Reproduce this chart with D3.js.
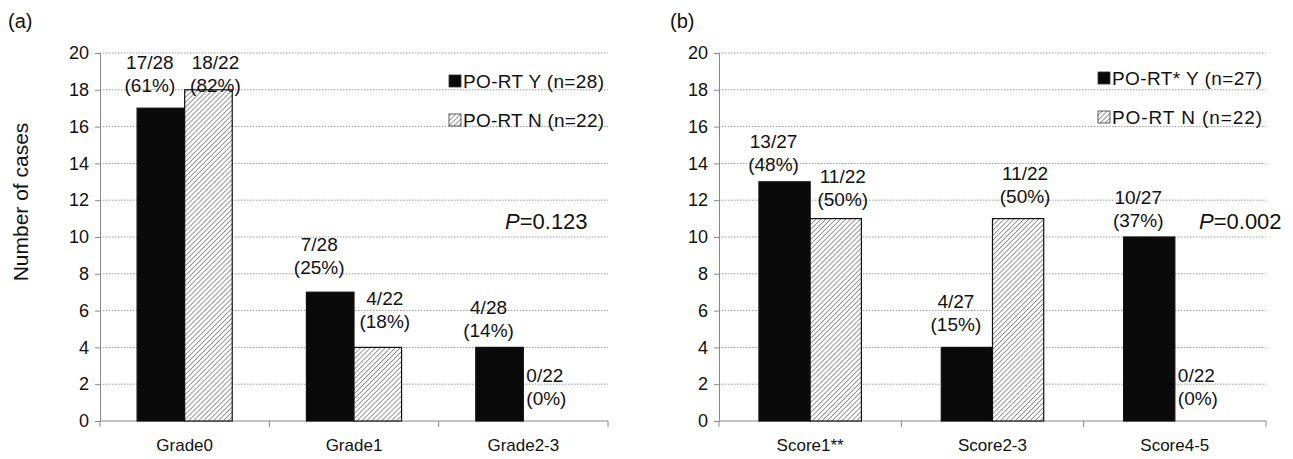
<!DOCTYPE html>
<html>
<head>
<meta charset="utf-8">
<script src="https://cdn.jsdelivr.net/npm/d3@7"></script>
<style>
  body { margin: 0; background: #fff; }
  text { font-family: "Liberation Sans", Arial, sans-serif; fill: #111; }
</style>
</head>
<body>
<div id="chart"></div>
<script>
// panel (a)
let gradeCats = ["Grade0", "Grade1", "Grade2-3"];
let gradeY = [17, 7, 4];
let gradeN = [18, 4, 0];
let gradeYLabels = ["17/28|(61%)", "7/28|(25%)", "4/28|(14%)"];
let gradeNLabels = ["18/22|(82%)", "4/22|(18%)", "0/22|(0%)"];
// line-1 anchor of each annotation, in axis units
let gradeYLabelAt = [19.5, 9.6, 6.2];
let gradeNLabelAt = [19.5, 6.7, 2.5];

// panel (b)
let scoreCats = ["Score1**", "Score2-3", "Score4-5"];
let scoreY = [13, 4, 10];
let scoreN = [11, 11, 0];
let scoreYLabels = ["13/27|(48%)", "4/27|(15%)", "10/27|(37%)"];
let scoreNLabels = ["11/22|(50%)", "11/22|(50%)", "0/22|(0%)"];
let scoreYLabelAt = [15.2, 6.5, 12.2];
let scoreNLabelAt = [13.3, 13.5, 2.5];

let yTicks = [0, 2, 4, 6, 8, 10, 12, 14, 16, 18, 20];

let svgWidth = 1293, svgHeight = 459;
let svg = d3.select("#chart").append("svg")
  .attr("width", svgWidth).attr("height", svgHeight);

let defs = svg.append("defs");
let pat = defs.append("pattern")
  .attr("id", "hatch").attr("patternUnits", "userSpaceOnUse")
  .attr("width", 3.5).attr("height", 3.5)
  .attr("patternTransform", "rotate(45)");
pat.append("rect").attr("width", 3.5).attr("height", 3.5).attr("fill", "#fff");
pat.append("line").attr("x1", 0).attr("y1", 0).attr("x2", 0).attr("y2", 3.5)
  .attr("stroke", "#555").attr("stroke-width", 1.2);

let yScale = d3.scaleLinear().domain([0, 20]).range([421, 53]);

let drawPanel = (opt) => {
  let g = svg.append("g");
  let x = d3.scaleBand().domain(opt.cats).range([opt.x0, opt.x1]);
  let inner = d3.scaleBand().domain(["Y", "N"]).range([0, x.bandwidth()]).paddingOuter(0.78).paddingInner(0);

  // gridlines
  g.selectAll("line.grid").data(yTicks.slice(1)).enter().append("line")
    .attr("x1", opt.x0).attr("x2", opt.x1)
    .attr("y1", (d) => yScale(d)).attr("y2", (d) => yScale(d))
    .attr("stroke", "#999").attr("stroke-dasharray", "1.5,1.5");

  // y axis
  let yAxis = d3.axisLeft(yScale).tickValues(yTicks).tickSize(5).tickPadding(6);
  let ya = g.append("g").attr("transform", "translate(" + opt.x0 + ",0)").call(yAxis);
  ya.selectAll("path, line").attr("stroke", "#888");
  ya.selectAll("text").style("font-size", "18px").attr("fill", "#111");

  // x axis with ticks at band edges
  let xa = g.append("g").attr("transform", "translate(0," + yScale(0) + ")");
  xa.append("line").attr("x1", opt.x0).attr("x2", opt.x1).attr("stroke", "#888");
  let edges = opt.cats.map((c) => x(c)).concat([opt.x1]);
  xa.selectAll("line.tk").data(edges).enter().append("line")
    .attr("x1", (d) => d).attr("x2", (d) => d).attr("y1", 0).attr("y2", 6).attr("stroke", "#888");
  xa.selectAll("text").data(opt.cats).enter().append("text")
    .attr("x", (d) => x(d) + x.bandwidth() / 2).attr("y", 30)
    .attr("text-anchor", "middle").style("font-size", "17px").text((d) => d);

  let series = [
    { key: "Y", vals: opt.y, labels: opt.yLabels, at: opt.yAt, fill: "#0a0a0a", dx: -11 },
    { key: "N", vals: opt.n, labels: opt.nLabels, at: opt.nAt, fill: "url(#hatch)", dx: 7 },
  ];
  series.forEach((s) => {
    g.selectAll(null).data(opt.cats).enter().append("rect")
      .attr("x", (d) => x(d) + inner(s.key))
      .attr("width", inner.bandwidth())
      .attr("y", (d, i) => yScale(s.vals[i]))
      .attr("height", (d, i) => yScale(0) - yScale(s.vals[i]))
      .attr("fill", s.fill)
      .attr("stroke", (d, i) => (s.vals[i] > 0 ? "#111" : "none"))
      .attr("stroke-width", 1.2);

    opt.cats.forEach((c, i) => {
      let zero = s.vals[i] === 0;
      let cx = zero ? x(c) + inner("Y") + inner.bandwidth() + 3 : x(c) + inner(s.key) + inner.bandwidth() / 2 + s.dx;
      let t = g.append("text")
        .attr("text-anchor", zero ? "start" : "middle")
        .attr("y", yScale(s.at[i]) + 7)
        .style("font-size", "19px");
      s.labels[i].split("|").forEach((ln, j) => {
        t.append("tspan").attr("x", cx).attr("dy", j === 0 ? 0 : 23).text(ln);
      });
    });
  });

  // legend
  let lg = g.append("g");
  [opt.leg[0], opt.leg[1]].forEach((txt, i) => {
    let ly = opt.legY[i];
    lg.append("rect").attr("x", opt.legX).attr("y", ly - 6).attr("width", 12).attr("height", 12)
      .attr("fill", i === 0 ? "#0a0a0a" : "url(#hatch)").attr("stroke", "#333").attr("stroke-width", 0.8);
    lg.append("text").attr("x", opt.legX + 14).attr("y", ly + 7).attr("textLength", opt.legW)
      .style("font-size", "19px").text(txt);
  });

  // P value
  let p = g.append("text").attr("x", opt.pX).attr("y", opt.pY).style("font-size", "22px");
  p.append("tspan").attr("font-style", "italic").text("P");
  p.append("tspan").text(opt.p);

  svg.append("text").attr("x", opt.tagX).attr("y", 28).style("font-size", "20px").text(opt.tag);
};

drawPanel({
  cats: gradeCats, y: gradeY, n: gradeN,
  yLabels: gradeYLabels, nLabels: gradeNLabels, yAt: gradeYLabelAt, nAt: gradeNLabelAt,
  x0: 100, x1: 608,
  leg: ["PO-RT Y (n=28)", "PO-RT N (n=22)"], legX: 449, legY: [81, 120], legW: 141,
  p: "=0.123", pX: 505, pY: 229, tag: "(a)", tagX: 8,
});
drawPanel({
  cats: scoreCats, y: scoreY, n: scoreN,
  yLabels: scoreYLabels, nLabels: scoreNLabels, yAt: scoreYLabelAt, nAt: scoreNLabelAt,
  x0: 719, x1: 1266,
  leg: ["PO-RT* Y (n=27)", "PO-RT N (n=22)"], legX: 1098, legY: [78, 117], legW: 150,
  p: "=0.002", pX: 1199, pY: 229, tag: "(b)", tagX: 670,
});

svg.append("text")
  .attr("transform", "translate(28,202) rotate(-90)")
  .attr("text-anchor", "middle").style("font-size", "21px").text("Number of cases");
</script>
</body>
</html>
